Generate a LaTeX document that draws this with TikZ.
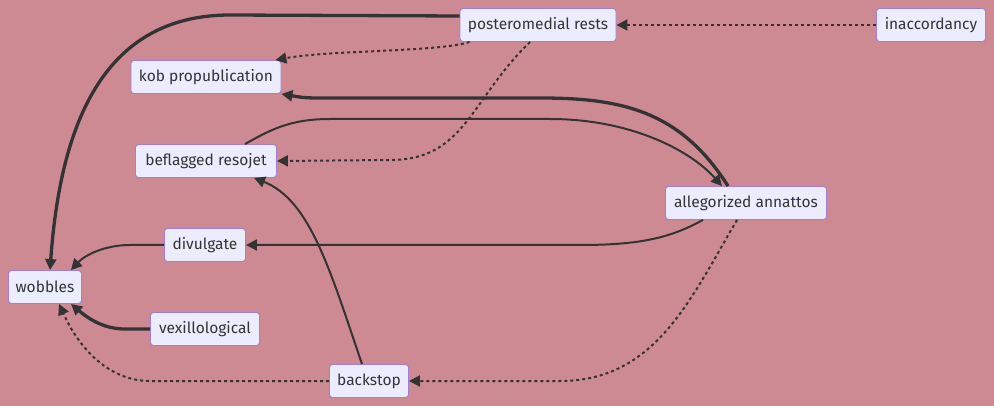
\documentclass[tikz,border=0pt]{standalone}
\usepackage{fontspec}
\setmainfont{Fira Sans}
\usetikzlibrary{arrows.meta}

\definecolor{bgpink}{RGB}{206,138,147}
\definecolor{nodefill}{RGB}{236,236,255}
\definecolor{nodeline}{RGB}{160,125,215}
\definecolor{edgegray}{RGB}{51,51,51}

\tikzset{
  box/.style={draw=nodeline, fill=nodefill, rounded corners=3pt, line width=0.9pt,
    text=edgegray, font=\fontsize{15.5}{18}\selectfont, inner xsep=6pt, minimum height=33pt},
  link/.style={draw=edgegray, line width=2pt, -{Triangle[length=11pt,width=11pt]}},
  thick link/.style={link, line width=3.3pt},
  dot link/.style={link, dash pattern=on 3pt off 3pt},
}

\begin{document}
\begin{tikzpicture}[x=1pt,y=-1pt]
  \fill[bgpink] (0,0) rectangle (994,406);
  \useasboundingbox (0,0) rectangle (994,406);

  \node[box, minimum width=156pt] (pmr) at (538,25) {posteromedial rests};
  \node[box, minimum width=109pt] (inac) at (931,25) {inaccordancy};
  \node[box, minimum width=150pt] (kob) at (206,77) {kob propublication};
  \node[box, minimum width=141pt] (bef) at (206,161) {beflagged resojet};
  \node[box, minimum width=161pt] (alleg) at (746,203) {allegorized annattos};
  \node[box, minimum width=81pt] (divul) at (205,245) {divulgate};
  \node[box, minimum width=73pt] (wob) at (45,287) {wobbles};
  \node[box, minimum width=109pt] (vex) at (205,329) {vexillological};
  \node[box, minimum width=79pt] (back) at (369,381) {backstop};

  \draw[thick link] ([yshift=9pt]pmr.west) -- (230,15)
    .. controls (100,15) and (60,130) .. ([xshift=5pt]wob.north);
  \draw[dot link] ([xshift=10pt]pmr.south west)
    .. controls (440,52) and (330,50) .. ([xshift=-6pt]kob.north east);
  \draw[dot link] ([xshift=-8pt]pmr.south)
    .. controls (470,100) and (465,160) .. (390,160) -- (bef.east);
  \draw[dot link] (inac.west) -- (pmr.east);
  \draw[thick link] ([xshift=-18pt]alleg.north)
    .. controls (680,110) and (620,98) .. (540,98) -- (330,98)
    .. controls (305,98) .. (kob.south east);
  \draw[link] ([xshift=39pt]bef.north)
    .. controls (270,130) and (290,119) .. (330,119) -- (550,119)
    .. controls (630,119) and (690,150) .. ([xshift=-24pt]alleg.north);
  \draw[link] ([xshift=-43pt]alleg.south)
    .. controls (670,238) and (640,245) .. (580,245) -- (divul.east);
  \draw[dot link] ([xshift=-9pt]alleg.south)
    .. controls (690,300) and (655,381) .. (560,381) -- (back.east);
  \draw[link] ([xshift=-7pt]back.north)
    .. controls (330,270) and (310,200) .. ([xshift=48pt]bef.south);
  \draw[link] (divul.west) -- (130,245)
    .. controls (105,245) and (85,255) .. ([xshift=-11pt]wob.north east);
  \draw[thick link] (vex.west) -- (125,329)
    .. controls (105,329) and (90,320) .. ([xshift=-11pt]wob.south east);
  \draw[dot link] (back.west) -- (150,381)
    .. controls (110,381) and (80,350) .. ([xshift=14pt]wob.south);
\end{tikzpicture}
\end{document}
